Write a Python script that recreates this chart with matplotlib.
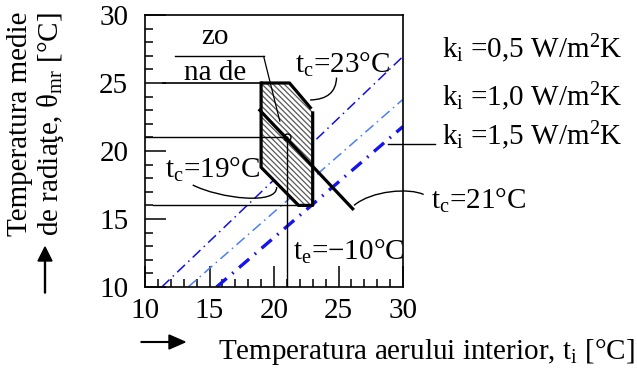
import numpy as np
import matplotlib
matplotlib.use("Agg")
import matplotlib.pyplot as plt
from matplotlib.patches import Polygon, PathPatch, FancyArrow
from matplotlib.path import Path
from matplotlib.ticker import MultipleLocator

plt.rcParams['font.family'] = ['Liberation Serif', 'DejaVu Serif']
plt.rcParams['mathtext.fontset'] = 'custom'
plt.rcParams['mathtext.rm'] = 'Liberation Serif'
plt.rcParams['mathtext.it'] = 'Liberation Serif:italic'
plt.rcParams['hatch.linewidth'] = 0.9

FS = 21

# comfort zone (hatched polygon)
zone_x = [19.0, 21.2, 22.9, 23.0, 23.0, 21.9, 19.0]
zone_y = [25.0, 25.0, 23.1, 22.8, 16.0, 16.0, 18.8]

# operative temperature line tc = 21
tc21_x = [18.9, 26.1]
tc21_y = [23.0, 15.75]

# k_i lines: start on bottom axis (y=10), end on right axis (x=30)
ki_labels = ['0,5', '1,0', '1,5']
ki_x0 = [11.3, 13.35, 15.55]
ki_y1 = [26.95, 23.8, 21.8]
ki_colors = ['#1010e0', '#4a80f0', '#1414f0']
ki_lw = [1.1, 1.1, 2.4]
ki_label_y = [27.5, 24.0, 21.15]

# design point te = -10
pt_x, pt_y = 21.0, 21.0

fig = plt.figure(figsize=(6.37, 3.69), dpi=100)
ax = fig.add_axes([145/637, 1-287/369, 258/637, 272/369])
ax.set_xlim(10, 30)
ax.set_ylim(10, 30)

for s in ax.spines.values():
    s.set_linewidth(1.2)
ax.xaxis.set_major_locator(MultipleLocator(5))
ax.xaxis.set_minor_locator(MultipleLocator(1))
ax.yaxis.set_major_locator(MultipleLocator(5))
ax.yaxis.set_minor_locator(MultipleLocator(1))
ax.tick_params(which='both', direction='in', top=False, right=False, width=1.1, labelsize=FS)
ax.tick_params(which='major', length=15)
ax.tick_params(which='minor', length=6)
ax.tick_params(axis='y', which='major', pad=12)
ax.tick_params(axis='x', which='major', pad=8)

# k_i lines
for x0, y1, c, lw in zip(ki_x0, ki_y1, ki_colors, ki_lw):
    ls = (0, (7, 3, 1, 3)) if lw < 2 else (0, (4, 2.2, 0.5, 2.2))
    ax.plot([x0, 30], [10, y1], color=c, lw=lw, ls=ls)

# hatched zone
ax.add_patch(Polygon(list(zip(zone_x, zone_y)), closed=True, facecolor='white',
                     edgecolor='0.35', linewidth=0, hatch='\\' * 6, zorder=2))
ax.plot(zone_x[:3], zone_y[:3], color='black', lw=2.3, zorder=4, solid_capstyle='butt')
ax.plot(zone_x[3:] + [zone_x[0]], zone_y[3:] + [zone_y[0]], color='black', lw=2.3, zorder=4)

# tc = 21 line
ax.plot(tc21_x, tc21_y, color='black', lw=2.3, zorder=4)

# thin reference lines
ax.plot([11.4, 19.0], [25, 25], color='black', lw=1.2, zorder=3)
ax.plot([10, pt_x], [pt_y, pt_y], color='black', lw=1.0, zorder=3)
ax.plot([10.65, 21.9], [16, 16], color='black', lw=1.0, zorder=3)
ax.plot([pt_x, pt_x], [10, pt_y], color='black', lw=1.0, zorder=3)
ax.plot([pt_x], [pt_y], marker='o', ms=5, mfc='none', mec='black', mew=1.0, zorder=5)

# zona de confort label
ax.text(15.4, 28.4, 'zo', fontsize=FS, ha='center', va='center')
ax.text(15.4, 25.75, 'na de', fontsize=FS, ha='center', va='center')
ax.plot([12.3, 19.2], [26.95, 26.95], color='black', lw=1.0)
ax.plot([19.2, 20.45], [26.95, 22.2], color='black', lw=0.9, zorder=5)

# labels with curved leaders
ax.text(21.6, 26.3, r't$_\mathrm{c}$=23°C', fontsize=FS, va='center', ha='left')
ax.add_patch(PathPatch(Path([(24.85, 25.4), (24.8, 23.8), (22.8, 23.75)],
                            [Path.MOVETO, Path.CURVE3, Path.CURVE3]),
                       fc='none', ec='black', lw=1.0))
ax.text(11.55, 18.6, r't$_\mathrm{c}$=19°C', fontsize=FS, va='center', ha='left')
ax.add_patch(PathPatch(Path([(13.7, 17.5), (15.8, 16.5), (20.3, 16.0), (20.2, 17.35)],
                            [Path.MOVETO, Path.CURVE4, Path.CURVE4, Path.CURVE4]),
                       fc='none', ec='black', lw=1.0, zorder=5))
ax.text(32.2, 16.3, r't$_\mathrm{c}$=21°C', fontsize=FS, va='center', ha='left', clip_on=False)
ax.add_patch(PathPatch(Path([(26.2, 16.0), (27.6, 17.1), (30.5, 17.3), (31.6, 16.8)],
                            [Path.MOVETO, Path.CURVE4, Path.CURVE4, Path.CURVE4]),
                       fc='none', ec='black', lw=1.0, clip_on=False))
ax.text(21.45, 12.6, r't$_\mathrm{e}$=−10°C', fontsize=FS, va='center', ha='left')

# k_i labels
for lab, y in zip(ki_labels, ki_label_y):
    ax.text(33.0, y, r'k$_\mathrm{i}$ =' + lab + r' W/m$^\mathrm{2}$K', fontsize=FS,
            va='center', ha='left', clip_on=False)
ax.plot([28.8, 32.5], [20.55, 20.55], color='black', lw=1.0, clip_on=False)

# axis labels
fig.text(20/637, 1-12/369, 'Temperatura medie', rotation=90, fontsize=FS, ha='center', va='top')
fig.text(50/637, 1-12/369, r'de radiaţe, θ$_\mathrm{mr}$ [°C]', rotation=90, fontsize=FS,
         ha='center', va='top')
fig.text(218/637, 1-352/369, r'Temperatura aerului interior, t$_\mathrm{i}$ [°C]', fontsize=FS,
         ha='left', va='center')

# arrows
fig.add_artist(FancyArrow(45/637, 1-293/369, 0, 46/369, width=0.0015, head_width=14/637,
                          head_length=14/369, length_includes_head=True, color='black',
                          transform=fig.transFigure))
fig.add_artist(FancyArrow(141/637, 1-342/369, 44/637, 0, width=0.002, head_width=14/369,
                          head_length=16/637, length_includes_head=True, color='black',
                          transform=fig.transFigure))

fig.savefig('out.png', dpi=100)
